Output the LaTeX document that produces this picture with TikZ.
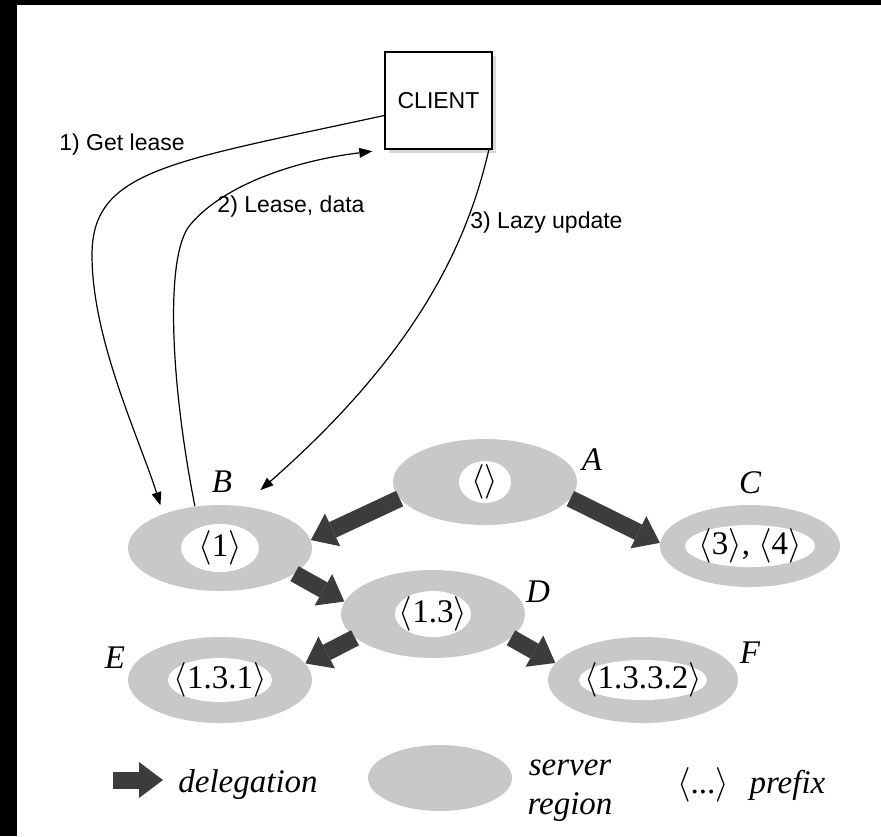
\documentclass[tikz,border=0pt]{standalone}
\usepackage{fontspec}
\setmainfont{Liberation Serif}
\setsansfont{Liberation Sans}
\usetikzlibrary{arrows.meta, shapes.geometric, positioning, calc, shadows}
\definecolor{RegionGray}{RGB}{200,200,200}
\definecolor{DelegDark}{RGB}{60,60,60}

\begin{document}
\begin{tikzpicture}[x=0.5pt,y=-0.5pt,
    region/.style={ellipse,fill=RegionGray,inner sep=0pt},
    hole/.style={ellipse,fill=white,inner sep=0pt},
    pfx/.style={inner sep=0pt,font=\fontsize{16.5}{18}\selectfont},
    letter/.style={inner sep=0pt,font=\fontsize{16.5}{18}\selectfont\itshape},
    msg/.style={inner sep=0pt,font=\sffamily\fontsize{11.5}{13}\selectfont},
    deleg/.style={DelegDark,line width=8.5pt,
                  -{Triangle[length=12pt,width=18pt,line width=0pt]}},
    call/.style={black,line width=0.6pt,
                 -{Triangle[length=6.5pt,width=5pt,line width=0pt]}}
  ]
  \useasboundingbox (0,0) rectangle (881,836);
  \fill[black] (0,0) rectangle (881,836);
  \fill[white] (17,5) rectangle (881,836);

  % client
  \node[draw,fill=white,line width=0.8pt,minimum width=53.5pt,minimum height=48.5pt,
        font=\sffamily\fontsize{11.5}{13}\selectfont,
        drop shadow={shadow xshift=2pt,shadow yshift=-2pt,opacity=0.3}]
        (client) at (438.5,100.5) {CLIENT};

  % server regions
  \node[region,minimum width=92pt,minimum height=43pt] (regA) at (485,482) {};
  \node[hole,minimum width=26pt,minimum height=21pt] (holeA) at (regA) {};
  \node[pfx] (pfxA) at (regA) {$\langle\rangle$};
  \node[region,minimum width=92pt,minimum height=43pt] (regB) at (220,548) {};
  \node[hole,minimum width=39pt,minimum height=24pt] (holeB) at (regB) {};
  \node[pfx] (pfxB) at (regB) {$\langle$1$\rangle$};
  \node[region,minimum width=90pt,minimum height=41pt] (regC) at (750,546) {};
  \node[hole,minimum width=65pt,minimum height=21pt] (holeC) at (regC) {};
  \node[pfx] (pfxC) at (regC) {$\langle$3$\rangle$, $\langle$4$\rangle$};
  \node[region,minimum width=92pt,minimum height=44pt] (regD) at (433,614) {};
  \node[hole,minimum width=38pt,minimum height=23pt] (holeD) at (regD) {};
  \node[pfx] (pfxD) at (regD) {$\langle$1.3$\rangle$};
  \node[region,minimum width=92pt,minimum height=43pt] (regE) at (220,680) {};
  \node[hole,minimum width=52pt,minimum height=22pt] (holeE) at (regE) {};
  \node[pfx] (pfxE) at (regE) {$\langle$1.3.1$\rangle$};
  \node[region,minimum width=95pt,minimum height=43pt] (regF) at (643,680) {};
  \node[hole,minimum width=64pt,minimum height=20pt] (holeF) at (regF) {};
  \node[pfx] (pfxF) at (regF) {$\langle$1.3.3.2$\rangle$};

  \node[letter] (labA) at (592,460) {A};
  \node[letter] (labB) at (222,482) {B};
  \node[letter] (labC) at (750,483) {C};
  \node[letter] (labD) at (538,592) {D};
  \node[letter] (labE) at (115,658) {E};
  \node[letter] (labF) at (750,653) {F};

  % delegations
  \draw[deleg] (regA.191) -- (regB.5);
  \draw[deleg] (regA.-11) -- (regC.178);
  \draw[deleg] (regB.-19) -- (regD.172);
  \draw[deleg] (regD.197) -- (regE.11);
  \draw[deleg] (regD.-17) -- (regF.169);

  % client messages
  \draw[call,shorten >=4.5pt] ($(client.west)+(0,15)$)
    .. controls (170,162) and (92,170) .. (92,255)
    .. controls (92,340) and (140,440) .. (regB.149);
  \draw[call,shorten >=6pt] (regB.121)
    .. controls (170,380) and (165,255) .. (190,225)
    .. controls (225,183) and (300,160) .. (client.south west);
  \draw[call,shorten >=12pt] ($(client.south east)+(-4,0)$)
    .. controls (468,240) and (420,350) .. (regB.62);
  \node[msg] (getLease) at (122,145) {1) Get lease};
  \node[msg] (leaseData) at (291,207) {2) Lease, data};
  \node[msg,anchor=west] (lazyUpd) at (470,223) {3) Lazy update};

  % legend
  \coordinate (keyTail) at (113,780);
  \coordinate (keyTip) at (163,780);
  \draw[deleg] (keyTail) -- (keyTip);
  \node[letter] (keyDeleg) at (248,785) {delegation};
  \node[region,minimum width=72pt,minimum height=33pt] (keyRegion) at (440,778) {};
  \node[letter] (keyServer) at (570,768) {server};
  \node[letter] (keyRegionTxt) at (570,807) {region};
  \node[pfx] (keyPfx) at (703,785) {$\langle$...$\rangle$};
  \node[letter,right=10pt of keyPfx] (keyPfxTxt) {prefix};
\end{tikzpicture}
\end{document}
